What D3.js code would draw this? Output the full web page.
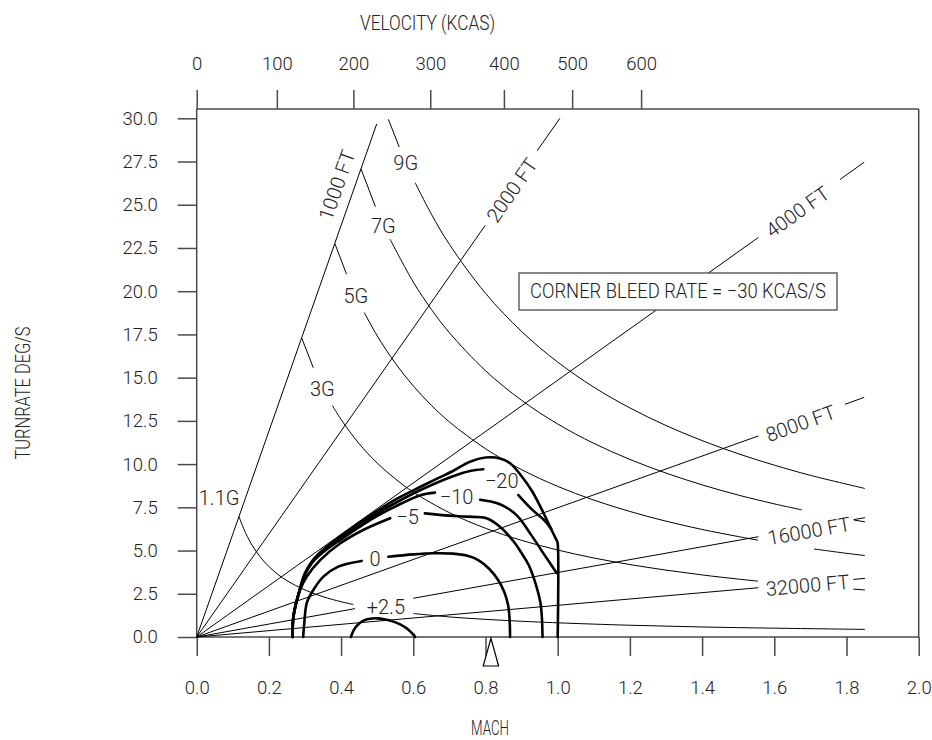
<!DOCTYPE html>
<html><head><meta charset="utf-8">
<script src="https://cdn.jsdelivr.net/npm/d3@7"></script>
<style>
body{margin:0;background:#fff;}
svg text{font-family:Roboto,"Liberation Sans",Arial,sans-serif;font-weight:300;fill:#222;}
</style></head><body>
<svg id="c" width="932" height="740"></svg>
<script>
// ---------- DATA ----------
const yTicks = [0,2.5,5,7.5,10,12.5,15,17.5,20,22.5,25,27.5,30];
const xTicks = [0,0.2,0.4,0.6,0.8,1.0,1.2,1.4,1.6,1.8,2.0];
const kcasLabels = [0,100,200,300,400,500,600];
const kcasMach = [0,0.222,0.434,0.647,0.851,1.040,1.231];

// constant turn-radius lines (Mach, deg/s), drawn in pieces around their labels
const radLabels = ["1000 FT","2000 FT","4000 FT","8000 FT","16000 FT","32000 FT"];
const radSegs = [
  [[[0,0],[0.4986,29.67]]],
  [[[0,0],[0.799,23.8]],[[0.943,28.12],[1.006,30.0]]],
  [[[0,0],[1.556,23.11]],[[1.782,26.46],[1.849,27.46]]],
  [[[0,0],[1.556,11.63]],[[1.796,13.46],[1.849,13.86]]],
  [[[0,0],[0.4385,1.64]],[[0.60,2.24],[1.556,5.8]],[[1.82,6.79],[1.851,6.9]]],
  [[[0,0],[1.556,2.85]],[[1.819,3.33],[1.851,3.39]]]
];
const radLabelPos = [[0.388,26.14],[0.873,25.85],[1.664,24.6],[1.673,12.36],[1.696,6.14],[1.692,3.0]];

// constant load-factor curves
const gLabels = ["1.1G","3G","5G","7G","9G"];
const gCurves = [
  [[[0.117,6.97],[0.13,6.27],[0.14,5.82],[0.15,5.43],[0.16,5.09],[0.175,4.66],[0.19,4.29],[0.2,4.08],[0.22,3.7],[0.25,3.26],[0.3,2.72],[0.35,2.33],[0.4,2.04],[0.434,1.88]],
   [[0.6,1.36],[0.7,1.16],[0.8,1.02],[0.9,0.91],[1.0,0.82],[1.2,0.68],[1.4,0.58],[1.6,0.51],[1.851,0.44]]],
  [[[0.291,17.29],[0.323,15.57]],
   [[0.376,13.38],[0.4,12.58],[0.45,11.18],[0.5,10.06],[0.55,9.15],[0.6,8.38],[0.7,7.19],[0.8,6.29],[0.9,5.59],[1.0,5.03],[1.1,4.57],[1.2,4.19],[1.3,3.87],[1.4,3.59],[1.5,3.35],[1.555,3.23]],
   [[1.819,2.77],[1.851,2.72]]],
  [[[0.383,22.74],[0.415,20.99]],
   [[0.464,18.77],[0.5,17.42],[0.55,15.84],[0.6,14.52],[0.65,13.4],[0.7,12.44],[0.8,10.89],[0.9,9.68],[1.0,8.71],[1.1,7.92],[1.2,7.26],[1.3,6.7],[1.4,6.22],[1.5,5.81],[1.555,5.6]],
   [[1.71,5.09],[1.8,4.84],[1.851,4.71]]],
  [[[0.455,27.08],[0.495,24.89]],
   [[0.5355,23.01],[0.6,20.53],[0.65,18.95],[0.7,17.6],[0.8,15.4],[0.9,13.69],[1.0,12.32],[1.1,11.2],[1.2,10.27],[1.3,9.48],[1.4,8.8],[1.5,8.21],[1.6,7.7],[1.677,7.35]],
   [[1.82,6.77],[1.851,6.66]]],
  [[[0.531,29.94],[0.561,28.34]],
   [[0.605,26.28],[0.65,24.46],[0.7,22.71],[0.8,19.88],[0.9,17.67],[1.0,15.9],[1.1,14.45],[1.2,13.25],[1.3,12.23],[1.4,11.36],[1.5,10.6],[1.6,9.94],[1.7,9.35],[1.851,8.59]]]
];
const gLabelPos = [[0.062,8.07],[0.348,14.33],[0.441,19.73],[0.517,23.78],[0.579,27.4]];

// specific excess power contours (bold)
const psLabels = ["+2.5","0","\u22125","\u221210","\u221220"];
const psLabelPos = [[0.524,1.75],[0.494,4.5],[0.584,6.98],[0.72,8.11],[0.845,9.03]];
const psPlus25 = [[[0.427,0],[0.435,0.4],[0.447,0.72],[0.462,0.95],[0.48,1.06],[0.50,1.08],[0.52,1.03],[0.545,0.89],[0.565,0.72],[0.582,0.5],[0.595,0.25],[0.602,0.1],[0.605,0]]];
const ps0 = [
  [[0.295,0],[0.298,0.8],[0.305,1.97],[0.323,2.72],[0.351,3.49],[0.392,4.07],[0.457,4.40]],
  [[0.531,4.64],[0.60,4.78],[0.66,4.84],[0.71,4.82],[0.75,4.7],[0.78,4.45],[0.81,3.95],[0.835,3.3],[0.852,2.6],[0.863,1.8],[0.867,0.9],[0.868,0]]
];
const psM5 = [
  [[0.266,0],[0.268,1.2],[0.286,2.7],[0.305,3.5],[0.342,4.45],[0.398,5.42],[0.461,6.19],[0.536,6.87]],
  [[0.632,7.15],[0.70,7.02],[0.748,6.96],[0.803,6.87],[0.84,6.38],[0.877,5.55],[0.90,4.85],[0.92,4.15],[0.94,3.0],[0.952,2.0],[0.956,1.2],[0.958,0]]
];
const psM10 = [
  [[0.266,0],[0.268,1.2],[0.286,2.75],[0.30,3.6],[0.32,4.3],[0.35,4.9],[0.40,5.65],[0.45,6.35],[0.50,7.0],[0.55,7.55],[0.62,8.2],[0.66,8.35]],
  [[0.785,7.94],[0.84,7.68],[0.886,7.05],[0.925,5.95],[0.96,4.85],[0.997,3.7]]
];
const psM20 = [
  [[0.266,0],[0.268,1.2],[0.286,2.78],[0.30,3.65],[0.32,4.35],[0.35,4.98],[0.40,5.75],[0.45,6.48],[0.50,7.15],[0.55,7.75],[0.62,8.5],[0.71,9.3],[0.757,9.6],[0.794,9.7]],
  [[0.891,8.21],[0.93,7.35],[0.965,6.7],[0.982,6.25]]
];
const psBoundary = [
  [[0.266,0],[0.268,1.2],[0.286,2.8],[0.30,3.7],[0.32,4.4],[0.35,5.05],[0.40,5.85],[0.45,6.6],[0.50,7.3],[0.55,7.95],[0.62,8.69],[0.67,9.2],[0.71,9.6],[0.757,10.14],[0.80,10.38],[0.84,10.33],[0.868,10.05],[0.90,9.3],[0.93,8.4],[0.96,7.2],[0.985,6.1],[0.998,5.55],[1.0,5.4],[1.0,0]]
];
const psContours = [psPlus25, ps0, psM5, psM10, psM20, psBoundary];

const markerMach = [0.815];
const boxText = "CORNER BLEED RATE = \u221230 KCAS/S";

// ---------- LAYOUT ----------
const svg = d3.select("#c");
const x = d3.scaleLinear().domain([0,2]).range([196.7,918.7]);
const y = d3.scaleLinear().domain([0,30]).range([637,118.3]);
const yTop = 30.54;
const TICK = 19, FS = 18.5, LFS = 20;
const axisColor = "#4a4a4a";

function styleAxis(g){
  g.select(".domain").remove();
  g.selectAll(".tick line").attr("stroke",axisColor).attr("stroke-width",1.5);
  g.selectAll(".tick text").attr("font-size",FS).attr("fill","#222")
    .style("font-family",'Roboto,"Liberation Sans",Arial,sans-serif');
}

// left axis
svg.append("g").attr("transform",`translate(${x(0)},0)`)
  .call(d3.axisLeft(y).tickValues(yTicks).tickFormat(d3.format(".1f")).tickSize(TICK).tickPadding(20))
  .call(styleAxis);
// bottom axis
svg.append("g").attr("transform",`translate(0,${y(0)})`)
  .call(d3.axisBottom(x).tickValues(xTicks).tickFormat(d3.format(".1f")).tickSize(TICK).tickPadding(25.3))
  .call(styleAxis);
// top axis (KCAS)
svg.append("g").attr("transform",`translate(0,${y(yTop)})`)
  .call(d3.axisTop(x).tickValues(kcasMach).tickFormat((d,i)=>kcasLabels[i]).tickSize(TICK).tickPadding(20))
  .call(styleAxis);

// frame
const frame = svg.append("g").attr("stroke",axisColor).attr("stroke-width",1.5).attr("fill","none");
frame.append("line").attr("x1",x(0)).attr("x2",x(2)).attr("y1",y(yTop)).attr("y2",y(yTop));
frame.append("line").attr("x1",x(2)).attr("x2",x(2)).attr("y1",y(yTop)).attr("y2",y(0));
frame.append("line").attr("x1",x(0)).attr("x2",x(0)).attr("y1",y(yTop)).attr("y2",y(0));
frame.append("line").attr("x1",x(0)).attr("x2",x(2)).attr("y1",y(0)).attr("y2",y(0));

// axis titles
svg.append("text").attr("x",427.5).attr("y",29.5).attr("text-anchor","middle")
  .attr("font-size",LFS).attr("textLength",135).attr("lengthAdjust","spacingAndGlyphs").text("VELOCITY (KCAS)");
svg.append("text").attr("x",490).attr("y",734.5).attr("text-anchor","middle")
  .attr("font-size",LFS).attr("textLength",38).attr("lengthAdjust","spacingAndGlyphs").text("MACH");
svg.append("text").attr("transform","translate(29.5,393) rotate(-90)").attr("text-anchor","middle")
  .attr("font-size",LFS).attr("textLength",133).attr("lengthAdjust","spacingAndGlyphs").text("TURNRATE DEG/S");

const plot = svg.append("g");
const straight = d3.line().x(d=>x(d[0])).y(d=>y(d[1]));
const smooth = d3.line().x(d=>x(d[0])).y(d=>y(d[1])).curve(d3.curveCatmullRom.alpha(0.5));

// radial lines
radSegs.forEach((segs,i)=>{
  segs.forEach(s=>plot.append("path").attr("d",straight(s)).attr("fill","none").attr("stroke","#000").attr("stroke-width",1));
  const last = segs[segs.length-1][1];
  const ang = Math.atan2(y(last[1])-y(0), x(last[0])-x(0))*180/Math.PI;
  plot.append("text")
    .attr("transform",`translate(${x(radLabelPos[i][0])},${y(radLabelPos[i][1])}) rotate(${ang})`)
    .attr("text-anchor","middle").attr("dy","0.36em").attr("font-size",LFS).text(radLabels[i]);
});

// G curves
gCurves.forEach((pieces,i)=>{
  pieces.forEach(p=>plot.append("path").attr("d",smooth(p)).attr("fill","none").attr("stroke","#000").attr("stroke-width",1));
  plot.append("text").attr("x",x(gLabelPos[i][0])).attr("y",y(gLabelPos[i][1])).attr("dy","0.36em")
    .attr("text-anchor","middle").attr("font-size",LFS).text(gLabels[i]);
});

// Ps contours
psContours.forEach(pieces=>{
  pieces.forEach(p=>plot.append("path").attr("d",smooth(p)).attr("fill","none").attr("stroke","#000")
    .attr("stroke-width",2.6).attr("stroke-linejoin","round").attr("stroke-linecap","round"));
});
psLabels.forEach((t,i)=>{
  plot.append("text").attr("x",x(psLabelPos[i][0])).attr("y",y(psLabelPos[i][1])).attr("dy","0.36em")
    .attr("text-anchor","middle").attr("font-size",LFS).text(t);
});

// corner speed marker
markerMach.forEach(m=>{
  const cx = x(m), y0 = y(0);
  svg.append("path").attr("d",`M${cx},${y0+1.3}L${cx-7.7},${y0+29}L${cx+7.7},${y0+29}Z`)
    .attr("fill","#fff").attr("stroke","#000").attr("stroke-width",1.2);
});

// annotation box
svg.append("rect").attr("x",519).attr("y",273).attr("width",318).attr("height",37)
  .attr("fill","#fff").attr("stroke",axisColor).attr("stroke-width",1.3);
svg.append("text").attr("x",678).attr("y",297.5).attr("text-anchor","middle").attr("font-size",LFS)
  .attr("textLength",296).attr("lengthAdjust","spacingAndGlyphs").text(boxText);
</script>
</body></html>
